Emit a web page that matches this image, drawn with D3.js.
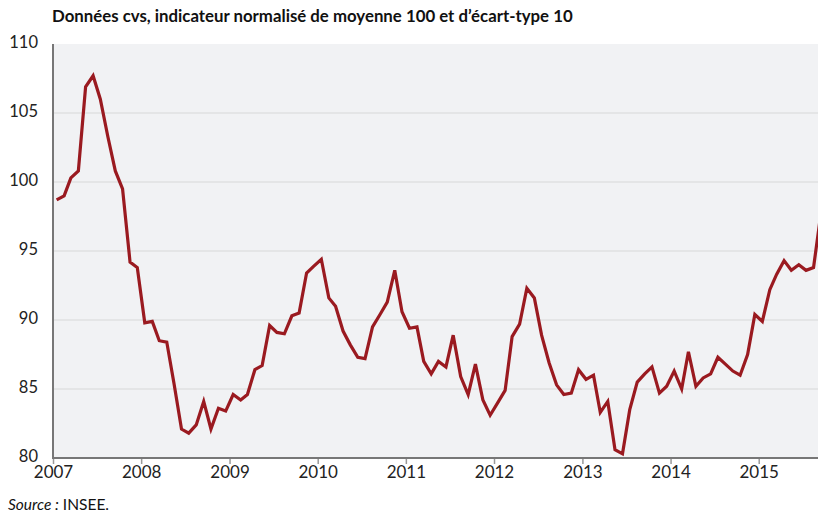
<!DOCTYPE html>
<html><head><meta charset="utf-8">
<script src="https://cdn.jsdelivr.net/npm/d3@7"></script>
<style>body{margin:0;background:#fff}svg{display:block}</style>
</head><body>
<svg id="c" width="818" height="512"></svg>
<script>
const title = "Données cvs, indicateur normalisé de moyenne 100 et d’écart-type 10";
const startYear = 2007, startMonth = 0;
const values = [
 98.7, 99.0, 100.3, 100.8, 106.9, 107.7, 106.0, 103.3, 100.8, 99.5, 94.2, 93.8,
 89.8, 89.9, 88.5, 88.4, 85.4, 82.1, 81.8, 82.4, 84.1, 82.1, 83.6, 83.4,
 84.6, 84.2, 84.6, 86.4, 86.7, 89.6, 89.1, 89.0, 90.3, 90.5, 93.4, 93.9,
 94.4, 91.6, 91.0, 89.2, 88.2, 87.3, 87.2, 89.5, 90.4, 91.3, 93.6, 90.6,
 89.4, 89.5, 87.0, 86.1, 87.0, 86.6, 88.9, 85.9, 84.6, 86.8, 84.2, 83.1,
 84.0, 84.9, 88.8, 89.7, 92.3, 91.6, 88.9, 86.9, 85.3, 84.6, 84.7, 86.4,
 85.7, 86.0, 83.3, 84.1, 80.6, 80.3, 83.5, 85.5, 86.1, 86.6, 84.7, 85.2,
 86.3, 85.0, 87.7, 85.2, 85.8, 86.1, 87.3, 86.8, 86.3, 86.0, 87.5, 90.4,
 89.9, 92.2, 93.3, 94.3, 93.6, 94.0, 93.6, 93.8, 97.8
];
const yTicks = [80, 85, 90, 95, 100, 105, 110];
const xTickYears = [2007, 2008, 2009, 2010, 2011, 2012, 2013, 2014, 2015];
const source = ["Source :", " INSEE."];

const data = values.map((v, i) => ({date: new Date(startYear, startMonth + i, 16), value: v}));

const svg = d3.select("#c");
const m = {left: 53, right: 818, top: 44, bottom: 458};
const x = d3.scaleTime().domain([new Date(2007,0,1), new Date(2015,8,1)]).range([m.left, m.left + 88.2*(8+8/12)]);
const y = d3.scaleLinear().domain([80, 110]).range([m.bottom, m.top]);

const font = "Lato, 'Open Sans', sans-serif";

const tt = svg.append("text").attr("x", 52).attr("y", 22).attr("font-family", font)
  .attr("font-weight", "bold").attr("font-size", 15).attr("fill", "#111").text(title);
const tw = tt.node().getComputedTextLength();
tt.attr("font-size", 15 * 521 / tw);

svg.append("defs").append("clipPath").attr("id", "clip").append("rect")
  .attr("x", m.left).attr("y", m.top - 5).attr("width", m.right - m.left).attr("height", m.bottom - m.top + 5);

svg.append("rect").attr("x", m.left).attr("y", m.top).attr("width", m.right - m.left)
  .attr("height", m.bottom - m.top).attr("fill", "#f1f2f4");

// gridlines
svg.append("g").selectAll("line").data(yTicks.filter(d => d > 80 && d < 110)).join("line")
  .attr("x1", m.left).attr("x2", m.right).attr("y1", d => y(d)).attr("y2", d => y(d))
  .attr("stroke", "#dfe0e2").attr("stroke-width", 1.5);

// y axis labels
const yAxis = d3.axisLeft(y).tickValues(yTicks).tickSize(0).tickPadding(15);
const gy = svg.append("g").attr("transform", `translate(${m.left},0)`).call(yAxis);
gy.select(".domain").remove();
gy.selectAll("text").attr("font-family", font).attr("font-size", 16.5).attr("fill", "#222").attr("dy", "0.2em");

// x axis
const xAxis = d3.axisBottom(x).tickValues(xTickYears.map(yr => new Date(yr, 0, 1)))
  .tickFormat(d3.timeFormat("%Y")).tickSize(6).tickPadding(2);
const gx = svg.append("g").attr("transform", `translate(0,${m.bottom})`).call(xAxis);
gx.select(".domain").remove();
gx.selectAll(".tick line").attr("stroke", "#999").attr("stroke-width", 1.5);
gx.selectAll("text").attr("font-family", font).attr("font-size", 17).attr("fill", "#222");

// axis lines
svg.append("line").attr("x1", m.left).attr("x2", m.right).attr("y1", m.bottom).attr("y2", m.bottom)
  .attr("stroke", "#777").attr("stroke-width", 2);
svg.append("line").attr("x1", m.left).attr("x2", m.left).attr("y1", m.top).attr("y2", m.bottom + 1)
  .attr("stroke", "#777").attr("stroke-width", 2);

// line
svg.append("path").datum(data).attr("clip-path", "url(#clip)")
  .attr("d", d3.line().x(d => x(d.date)).y(d => y(d.value)))
  .attr("fill", "none").attr("stroke", "#9a1a20").attr("stroke-width", 3.2).attr("stroke-linejoin", "miter");

const st = svg.append("text").attr("x", 8).attr("y", 510).attr("font-family", font).attr("font-size", 15.5).attr("fill", "#111");
st.append("tspan").attr("font-style", "italic").text(source[0]);
st.append("tspan").text(source[1]);
</script>
</body></html>
